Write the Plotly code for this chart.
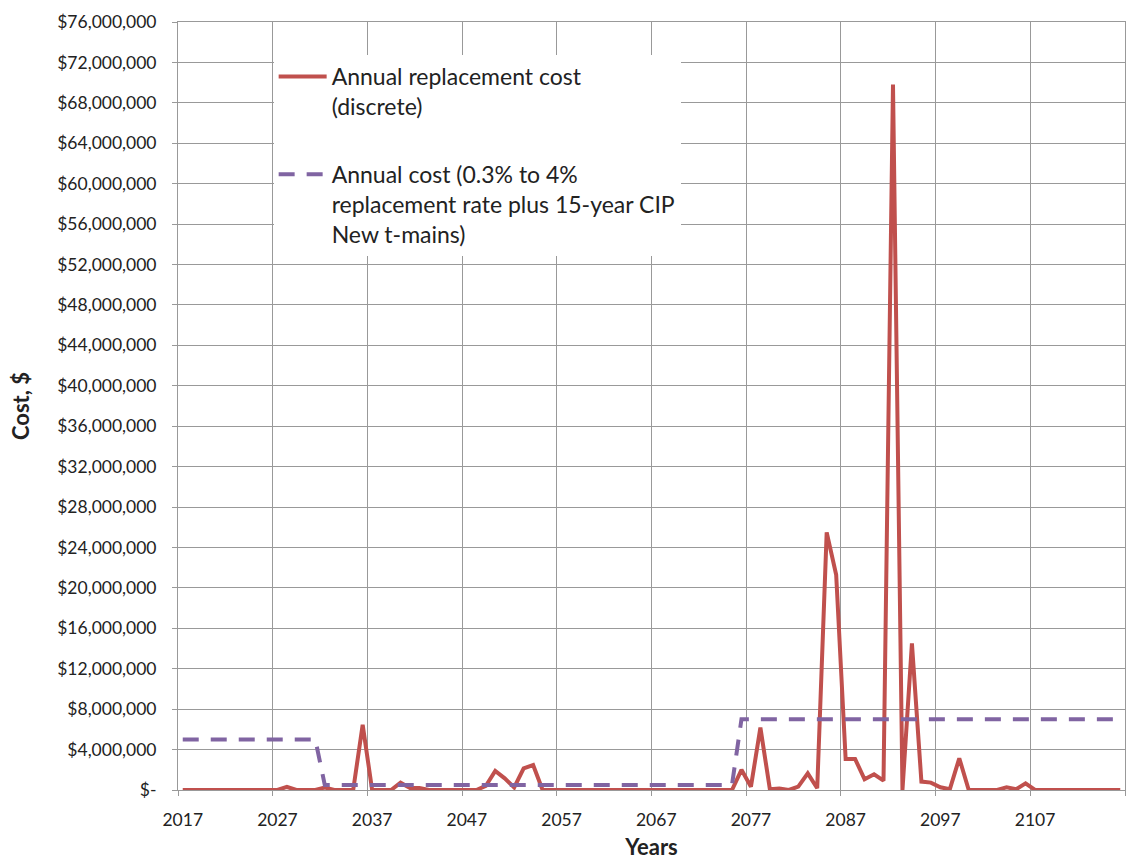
import plotly.graph_objects as go

years = list(range(2017, 2117))

annual_replacement_cost = [
    0, 0, 0, 0, 0, 0, 0, 0, 0, 0,            # 2017-2026
    0, 300000, 0, 0, 0, 250000, 0, 0, 0, 6450000,  # 2027-2036
    0, 0, 0, 720000, 200000, 200000, 0, 0, 0, 0,    # 2037-2046
    0, 0, 400000, 1880000, 1150000, 250000, 2150000, 2470000, 0, 0,  # 2047-2056
    0, 0, 0, 0, 0, 0, 0, 0, 0, 0,            # 2057-2066
    0, 0, 0, 0, 0, 0, 0, 0, 0, 2000000,      # 2067-2076
    330000, 6170000, 70000, 150000, 0, 330000, 1650000, 170000, 25500000, 21300000,  # 2077-2086
    3070000, 3070000, 1060000, 1550000, 920000, 69800000, 0, 14500000, 830000, 730000,  # 2087-2096
    270000, 70000, 3140000, 0, 0, 0, 0, 270000, 70000, 660000,  # 2097-2106
    0, 0, 0, 0, 0, 0, 0, 0, 0, 0,            # 2107-2116
]

annual_cost_rate = (
    [5000000] * 15      # 2017-2031
    + [500000] * 44     # 2032-2075
    + [7000000] * 41    # 2076-2116
)

y_tickvals = list(range(0, 76000001, 4000000))
y_ticktext = ["$-"] + ["${:,}".format(v) for v in y_tickvals[1:]]
x_tickvals = list(range(2017, 2108, 10))
x_ticktext = [str(v) for v in x_tickvals]

name1 = "Annual replacement cost<br>(discrete)"
name2 = "Annual cost (0.3% to 4%<br>replacement rate plus 15-year CIP<br>New t-mains)"

FONT = "Lato, 'Open Sans', sans-serif"
GRID = "#999999"

fig = go.Figure()
fig.add_trace(go.Scatter(
    x=years, y=annual_replacement_cost, mode="lines", name=name1,
    line=dict(color="#C0504D", width=4), legendgroup="a",
))
fig.add_trace(go.Scatter(
    x=years, y=annual_cost_rate, mode="lines", name=name2,
    line=dict(color="#8064A2", width=4, dash="16px,12px"), legendgroup="b",
))

fig.update_layout(
    width=1126, height=860,
    margin=dict(l=178, r=1, t=22, b=70),
    paper_bgcolor="white", plot_bgcolor="white",
    font=dict(family=FONT, size=17, color="#222222"),
    showlegend=True,
    legend=dict(
        x=0.101, y=0.957, xanchor="left", yanchor="top",
        bgcolor="white", borderwidth=0,
        font=dict(family=FONT, size=23, color="#222222"),
        tracegroupgap=35, valign="top", itemwidth=48,
        traceorder="grouped",
    ),
    xaxis=dict(
        range=[2016.5, 2116.5],
        tickmode="array", tickvals=x_tickvals, ticktext=x_ticktext,
        ticks="", showgrid=False, zeroline=False,
        showline=True, linecolor=GRID, linewidth=1, mirror=True,
        minor=dict(tick0=2016.5, dtick=10, showgrid=True, gridcolor=GRID,
                   gridwidth=1, ticks="outside", ticklen=5, tickcolor=GRID),
        ticklabelstandoff=14,
        tickfont=dict(size=17.5),
        title=dict(text="<b>Years</b>", font=dict(size=22), standoff=10),
    ),
    yaxis=dict(
        range=[0, 76000000],
        tickmode="array", tickvals=y_tickvals, ticktext=y_ticktext,
        showgrid=True, gridcolor=GRID, gridwidth=1, zeroline=False,
        showline=True, linecolor=GRID, linewidth=1, mirror=True,
        ticks="outside", ticklen=5, tickcolor=GRID,
        ticklabelstandoff=12,
        tickfont=dict(size=17.5),
        title=dict(text="<b>Cost, $</b>", font=dict(size=22), standoff=21),
    ),
)

fig.write_html("out.html")
